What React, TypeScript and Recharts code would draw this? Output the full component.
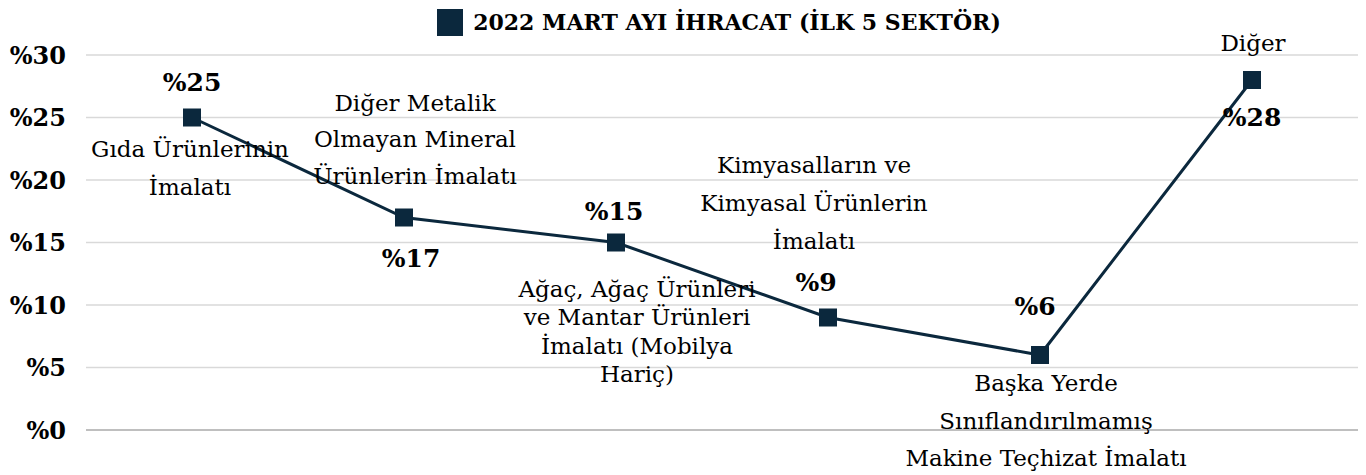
import { LineChart, Line, XAxis, YAxis, CartesianGrid, Legend, LabelList } from 'recharts';

const categories = [
  'Gıda Ürünlerinin İmalatı',
  'Diğer Metalik Olmayan Mineral Ürünlerin İmalatı',
  'Ağaç, Ağaç Ürünleri ve Mantar Ürünleri İmalatı (Mobilya Hariç)',
  'Kimyasalların ve Kimyasal Ürünlerin İmalatı',
  'Başka Yerde Sınıflandırılmamış Makine Teçhizat İmalatı',
  'Diğer',
];
const shares = [25, 17, 15, 9, 6, 28];
const yTicks = [0, 5, 10, 15, 20, 25, 30];
const seriesName = '2022 MART AYI İHRACAT (İLK 5 SEKTÖR)';

// words per line for each category label
const wordsPerLine = [[2, 1], [2, 2, 2], [3, 3, 2, 1], [2, 2, 1], [2, 1, 3], [1]];
// label placement relative to the point
const valuePos = [
  { dx: 0, dy: -35 },
  { dx: 7, dy: 41 },
  { dx: -2, dy: -31 },
  { dx: -12, dy: -35 },
  { dx: -5, dy: -49 },
  { dx: 0, dy: 37 },
];
const namePos = [
  { dx: -2, dy: 31, lh: 38 },
  { dx: 11, dy: -115, lh: 36.5 },
  { dx: 21, dy: 46, lh: 28.5 },
  { dx: -14, dy: -153, lh: 38 },
  { dx: 6, dy: 28, lh: 37.5 },
  { dx: 1, dy: -37, lh: 36 },
];

const data = categories.map((name, i) => ({ name, value: shares[i] }));

const NAVY = '#0b283d';
const SERIF = '"DejaVu Serif", serif';

const splitLines = (text: string, counts: number[]) => {
  const words = text.split(' ');
  const lines: string[] = [];
  let k = 0;
  counts.forEach((c) => {
    lines.push(words.slice(k, k + c).join(' '));
    k += c;
  });
  return lines;
};

const SquareDot = (props: any) => {
  const { cx, cy } = props;
  if (cx == null || cy == null) return null;
  return <rect x={cx - 9} y={cy - 9} width={18} height={18} fill={NAVY} />;
};

const ValueLabel = (props: any) => {
  const { x, y, index, value } = props;
  const p = valuePos[index];
  return (
    <text
      x={x + p.dx}
      y={y + p.dy}
      textAnchor="middle"
      dominantBaseline="central"
      fontFamily={SERIF}
      fontWeight="bold"
      fontSize={25}
      fill="#000"
    >
      %{value}
    </text>
  );
};

const NameLabel = (props: any) => {
  const { x, y, index, value } = props;
  const p = namePos[index];
  const lines = splitLines(String(value), wordsPerLine[index]);
  return (
    <g>
      {lines.map((line, j) => (
        <text
          key={j}
          x={x + p.dx}
          y={y + p.dy + j * p.lh}
          textAnchor="middle"
          dominantBaseline="central"
          fontFamily={SERIF}
          fontSize={23}
          fill="#000"
        >
          {line}
        </text>
      ))}
    </g>
  );
};

const TitleLegend = () => (
  <div style={{ display: 'flex', alignItems: 'center', justifyContent: 'center', height: 40, marginLeft: 72 }}>
    <span style={{ width: 26, height: 27, background: NAVY, display: 'inline-block', marginRight: 10 }} />
    <span style={{ fontFamily: SERIF, fontWeight: 'bold', fontSize: 22, color: '#000' }}>{seriesName}</span>
  </div>
);

export default function App() {
  return (
    <div style={{ position: 'absolute', left: 0, top: 0, background: '#fff' }}>
      <LineChart width={1366} height={475} data={data} margin={{ top: 15, right: 8, bottom: 44, left: 0 }}>
        <Legend verticalAlign="top" height={40} content={<TitleLegend />} wrapperStyle={{ top: 2, left: 0, width: 1366 }} />
        <CartesianGrid vertical={false} stroke="#d9d9d9" strokeWidth={1.5} />
        <XAxis
          dataKey="name"
          tick={false}
          tickLine={false}
          height={1}
          padding={{ left: 106, right: 106 }}
          axisLine={{ stroke: '#bfbfbf', strokeWidth: 2 }}
        />
        <YAxis
          width={86}
          domain={[0, 30]}
          ticks={yTicks}
          axisLine={false}
          tickLine={false}
          tickMargin={14}
          tickFormatter={(v) => `%${v}`}
          tick={{ fontFamily: SERIF, fontWeight: 'bold', fontSize: 24, fill: '#000' }}
        />
        <Line
          dataKey="value"
          name={seriesName}
          stroke={NAVY}
          strokeWidth={3}
          dot={<SquareDot />}
          activeDot={false}
          isAnimationActive={false}
        >
          <LabelList dataKey="value" content={<ValueLabel />} />
          <LabelList dataKey="name" content={<NameLabel />} />
        </Line>
      </LineChart>
    </div>
  );
}
